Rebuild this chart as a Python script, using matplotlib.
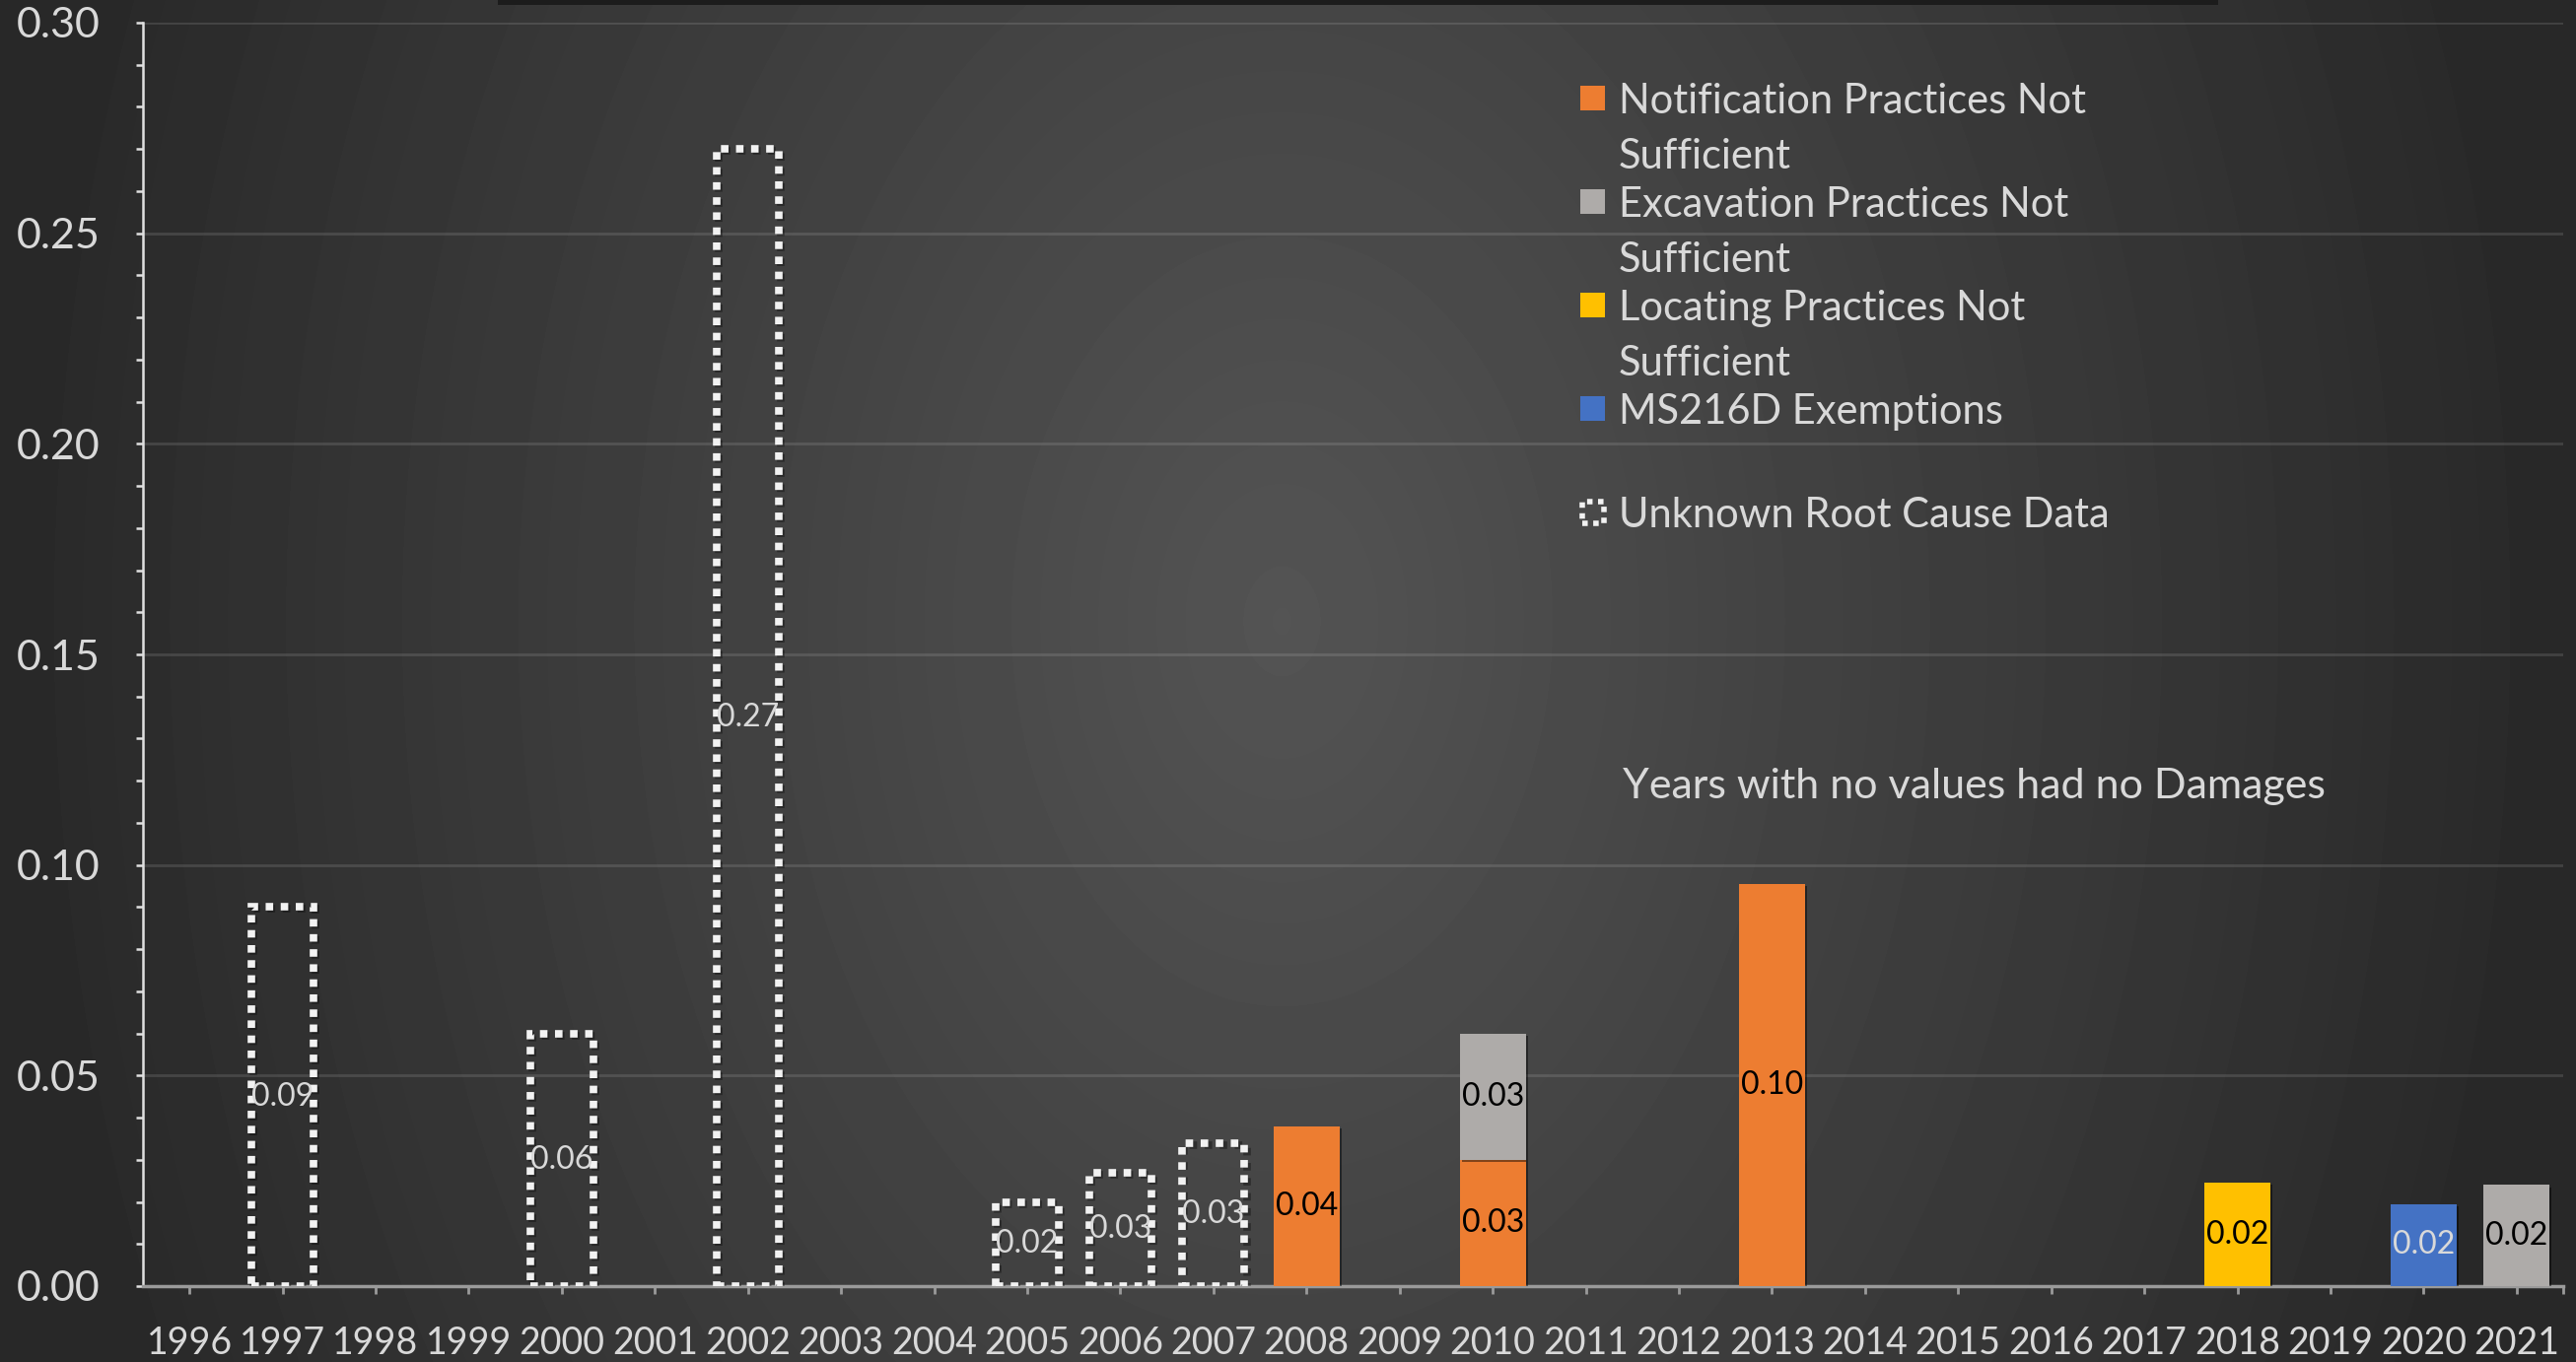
import numpy as np
import matplotlib
matplotlib.use("Agg")
from matplotlib import pyplot as plt
from matplotlib.patches import Rectangle
import matplotlib.patheffects as pe

plt.rcParams["font.family"] = ["Lato", "DejaVu Sans"]

# chart data
years = list(range(1996, 2022))

unknown_years = [1997, 2000, 2002, 2005, 2006, 2007]
unknown_vals = [0.090, 0.060, 0.270, 0.020, 0.027, 0.034]

notif_years = [2008, 2010, 2013]
notif_vals = [0.038, 0.030, 0.0955]

excav_years = [2010, 2021]
excav_vals = [0.030, 0.024]

locating_years = [2018]
locating_vals = [0.0245]

ms216d_years = [2020]
ms216d_vals = [0.0195]

legend_labels = [
    "Notification Practices Not\nSufficient",
    "Excavation Practices Not\nSufficient",
    "Locating Practices Not\nSufficient",
    "MS216D Exemptions",
    "Unknown Root Cause Data",
]
note_text = "Years with no values had no Damages"

ORANGE = "#ED7D31"
GREY = "#AEABA9"
YELLOW = "#FFC000"
BLUE = "#4472C4"
TEXT = "#D9D9D9"

W, H = 2613, 1382
fig = plt.figure(figsize=(W / 100, H / 100), dpi=100)

# radial gradient background (light middle, dark sides)
bg = fig.add_axes([0, 0, 1, 1], zorder=-10)
yy, xx = np.mgrid[0:H, 0:W]
r = np.sqrt(((xx - 1300) / 1300.0) ** 2 + ((yy - 630) / 1850.0) ** 2)
shade = (84 - 44 * np.clip(r, 0, 1)) / 255.0
bg.imshow(shade, cmap="gray", vmin=0, vmax=1, aspect="auto", interpolation="bilinear")
bg.axis("off")
# dark strip of the cut-off title box
fig.patches.append(Rectangle((505 / W, 1 - 5 / H), 1745 / W, 5 / H, transform=fig.transFigure,
                             facecolor="#1c1c1c", edgecolor="none"))

ax = fig.add_axes([145 / W, 1 - 1305 / H, 2455 / W, 1282 / H])
ax.set_facecolor("none")

idx = lambda ys: [y - years[0] for y in ys]
shadow = [pe.SimplePatchShadow(offset=(1.5, -1.5), alpha=0.45, shadow_rgbFace="black"), pe.Normal()]
dot_shadow = [pe.Stroke(offset=(1.5, -1.5), foreground="black", alpha=0.35), pe.Normal()]

bw = 0.71
unk = ax.bar(idx(unknown_years), unknown_vals, width=0.67, facecolor="none", edgecolor="#F2F2F2",
             linewidth=5.5, linestyle=(0, (1, 1)), zorder=3)
for p in unk:
    p.set_path_effects(dot_shadow)
notif = ax.bar(idx(notif_years), notif_vals, width=bw, color=ORANGE, zorder=3)

notif_lookup = dict(zip(notif_years, notif_vals))
excav_bottom = [notif_lookup.get(y, 0) for y in excav_years]
excav = ax.bar(idx(excav_years), excav_vals, width=bw, bottom=excav_bottom, color=GREY, zorder=3)
loc = ax.bar(idx(locating_years), locating_vals, width=bw, color=YELLOW, zorder=3)
ms = ax.bar(idx(ms216d_years), ms216d_vals, width=bw, color=BLUE, zorder=3)
for cont in (notif, excav, loc, ms):
    for p in cont:
        p.set_path_effects(shadow)

fmt = lambda vals: [f"{v:.2f}" for v in vals]
ax.bar_label(unk, fmt(unknown_vals), label_type="center", color=TEXT, fontsize=23, zorder=4)
ax.bar_label(notif, fmt(notif_vals), label_type="center", color="black", fontsize=23)
ax.bar_label(excav, fmt(excav_vals), label_type="center", color="black", fontsize=23)
ax.bar_label(loc, fmt(locating_vals), label_type="center", color="black", fontsize=23)
ax.bar_label(ms, fmt(ms216d_vals), label_type="center", color=TEXT, fontsize=23)

# axes styling
ax.set_xlim(-0.5, len(years) - 0.5)
ax.set_ylim(0, 0.30)
ax.set_xticks(range(len(years)))
ax.set_xticklabels([str(y) for y in years])
ax.set_xticks([len(years) - 0.5], minor=True)
ax.set_yticks(np.arange(0, 0.301, 0.05))
ax.set_yticks(np.arange(0, 0.301, 0.01), minor=True)
ax.yaxis.set_major_formatter(matplotlib.ticker.FormatStrFormatter("%.2f"))
ax.grid(axis="y", color="#FFFFFF", alpha=0.12, linewidth=2, zorder=0)
ax.set_axisbelow(True)

for s in ("top", "right"):
    ax.spines[s].set_visible(False)
ax.spines["left"].set_color("#E0E0E0")
ax.spines["left"].set_linewidth(1.8)
ax.spines["bottom"].set_color("#9A9A9A")
ax.spines["bottom"].set_linewidth(2.5)

ax.tick_params(axis="y", which="both", length=5, width=1.8, color="#E0E0E0", direction="out")
ax.tick_params(axis="y", labelsize=31, labelcolor=TEXT, pad=26)
ax.tick_params(axis="x", which="both", length=6, width=2, color="#9A9A9A", direction="out")
ax.tick_params(axis="x", labelsize=27, labelcolor=TEXT, pad=23)

# legend drawn by hand so the marker sits on the first line like the original
handles = [ORANGE, GREY, YELLOW, BLUE, None]
row_y = [100, 205, 310, 415, 520]
for color, label, ry in zip(handles, legend_labels, row_y):
    if color is None:
        fig.patches.append(Rectangle((1605 / W, 1 - (ry + 11) / H), 22 / W, 22 / H,
                                     transform=fig.transFigure, facecolor="none",
                                     edgecolor="#F2F2F2", linewidth=4, linestyle=(0, (1, 1))))
    else:
        fig.patches.append(Rectangle((1603 / W, 1 - (ry + 12) / H), 25 / W, 25 / H,
                                     transform=fig.transFigure, facecolor=color, edgecolor="none"))
    fig.text(1642 / W, 1 - (ry - 16) / H, label, color=TEXT, fontsize=30, va="top", ha="left",
             linespacing=1.58)

fig.text(2002 / W, 1 - 798 / H, note_text, color=TEXT, fontsize=31, ha="center", va="center")

fig.savefig("out.png", dpi=100, facecolor="#2A2A2A")
